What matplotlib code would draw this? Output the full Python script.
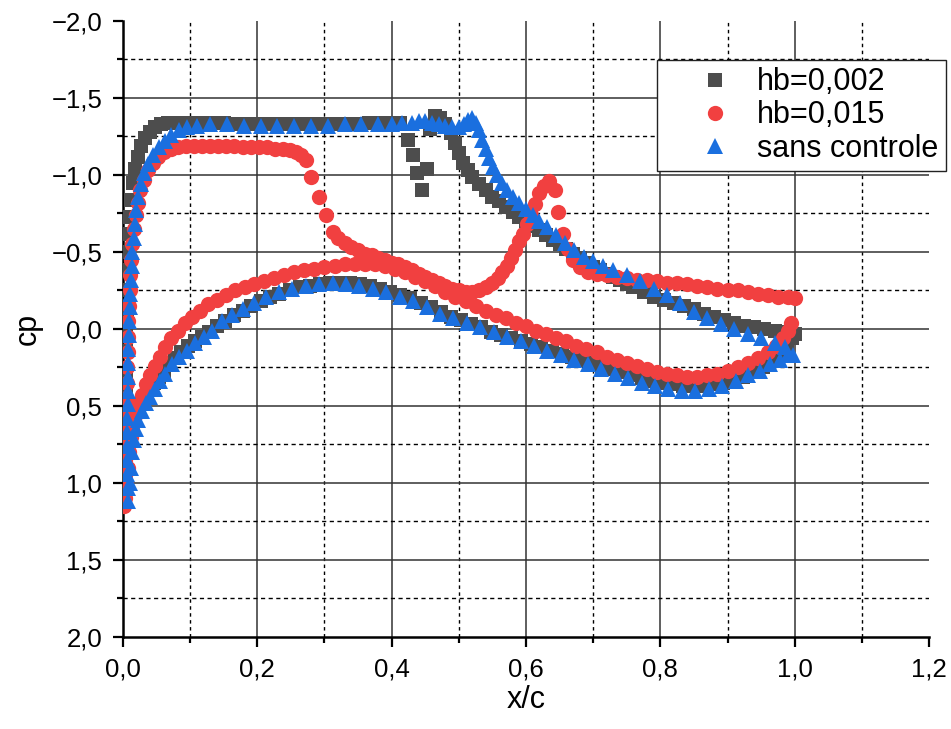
import matplotlib
matplotlib.use("Agg")
import matplotlib.pyplot as plt
from matplotlib.ticker import MultipleLocator, FuncFormatter

plt.rcParams["font.family"] = ["Liberation Sans", "DejaVu Sans"]

# (x/c, cp), upper and lower surface per case
gray_upper = [
    (0.002, 1.05), (0.002, 0.92), (0.003, 0.79), (0.003, 0.66), (0.004, 0.53), (0.004, 0.40),
    (0.005, 0.27), (0.005, 0.14), (0.005, 0.01), (0.006, -0.12), (0.006, -0.25), (0.007, -0.38),
    (0.008, -0.50), (0.009, -0.62), (0.010, -0.73), (0.012, -0.84), (0.015, -0.95), (0.018, -1.04),
    (0.022, -1.12), (0.027, -1.19), (0.033, -1.24), (0.040, -1.28), (0.048, -1.31), (0.057, -1.33),
    (0.067, -1.34), (0.078, -1.34), (0.090, -1.34), (0.102, -1.34), (0.114, -1.34), (0.126, -1.34),
    (0.138, -1.34), (0.150, -1.34), (0.162, -1.33), (0.174, -1.33), (0.186, -1.33), (0.198, -1.33),
    (0.210, -1.33), (0.222, -1.33), (0.234, -1.33), (0.246, -1.33), (0.258, -1.33), (0.270, -1.33),
    (0.282, -1.33), (0.294, -1.33), (0.306, -1.33), (0.318, -1.33), (0.330, -1.33), (0.342, -1.33),
    (0.354, -1.33), (0.366, -1.34), (0.378, -1.34), (0.390, -1.34), (0.402, -1.34), (0.413, -1.34),
    (0.424, -1.23), (0.432, -1.13), (0.437, -1.01), (0.445, -0.90), (0.452, -1.04), (0.457, -1.30),
    (0.464, -1.38), (0.472, -1.37), (0.480, -1.33), (0.488, -1.27), (0.494, -1.21), (0.500, -1.14),
    (0.506, -1.08), (0.513, -1.03), (0.520, -0.99), (0.530, -0.94), (0.540, -0.90), (0.550, -0.86),
    (0.560, -0.83), (0.570, -0.79), (0.580, -0.76), (0.590, -0.73), (0.600, -0.70), (0.610, -0.67),
    (0.620, -0.64), (0.630, -0.61), (0.640, -0.58), (0.650, -0.55), (0.660, -0.52), (0.670, -0.49),
    (0.680, -0.46), (0.690, -0.43), (0.700, -0.40), (0.710, -0.38), (0.720, -0.36), (0.730, -0.34),
    (0.740, -0.32), (0.750, -0.29), (0.760, -0.27), (0.775, -0.24), (0.790, -0.21), (0.805, -0.19),
    (0.820, -0.17), (0.835, -0.15), (0.850, -0.13), (0.865, -0.10), (0.880, -0.08), (0.895, -0.06),
    (0.910, -0.04), (0.925, -0.02), (0.940, -0.01), (0.955, 0.00), (0.970, 0.01), (0.985, 0.02),
    (1.000, 0.03),
]
gray_lower = [
    (0.003, 0.95), (0.005, 0.86), (0.007, 0.78), (0.010, 0.71), (0.013, 0.65), (0.017, 0.59),
    (0.022, 0.54), (0.027, 0.49), (0.033, 0.44), (0.039, 0.39), (0.046, 0.35), (0.053, 0.31),
    (0.061, 0.27), (0.069, 0.23), (0.078, 0.19), (0.087, 0.15), (0.097, 0.11), (0.107, 0.08),
    (0.117, 0.05), (0.128, 0.02), (0.140, -0.02), (0.152, -0.05), (0.165, -0.09), (0.178, -0.12),
    (0.191, -0.15), (0.205, -0.18), (0.219, -0.21), (0.233, -0.23), (0.248, -0.25), (0.263, -0.27),
    (0.278, -0.28), (0.293, -0.29), (0.308, -0.30), (0.323, -0.30), (0.338, -0.30), (0.353, -0.29),
    (0.368, -0.28), (0.383, -0.26), (0.398, -0.24), (0.413, -0.22), (0.428, -0.20), (0.443, -0.17),
    (0.458, -0.14), (0.473, -0.11), (0.488, -0.08), (0.503, -0.06), (0.518, -0.03), (0.533, -0.01),
    (0.548, 0.02), (0.563, 0.04), (0.578, 0.06), (0.593, 0.08), (0.608, 0.10), (0.623, 0.12),
    (0.638, 0.14), (0.653, 0.16), (0.668, 0.18), (0.683, 0.20), (0.698, 0.22), (0.713, 0.24),
    (0.728, 0.26), (0.743, 0.28), (0.758, 0.30), (0.773, 0.32), (0.788, 0.34), (0.803, 0.35),
    (0.818, 0.36), (0.833, 0.37), (0.848, 0.37), (0.863, 0.37), (0.878, 0.36), (0.893, 0.35),
    (0.908, 0.33), (0.923, 0.31), (0.938, 0.28), (0.953, 0.25), (0.966, 0.21), (0.978, 0.16),
    (0.988, 0.11), (0.996, 0.06),
]

red_upper = [
    (0.002, 1.15), (0.002, 1.05), (0.003, 0.95), (0.003, 0.85), (0.004, 0.75), (0.004, 0.65),
    (0.005, 0.55), (0.005, 0.45), (0.006, 0.35), (0.006, 0.25), (0.007, 0.15), (0.007, 0.05),
    (0.008, -0.05), (0.009, -0.15), (0.010, -0.25), (0.011, -0.35), (0.012, -0.45), (0.014, -0.55),
    (0.016, -0.65), (0.019, -0.74), (0.022, -0.82), (0.026, -0.90), (0.031, -0.97), (0.037, -1.03),
    (0.044, -1.08), (0.052, -1.12), (0.061, -1.15), (0.071, -1.17), (0.082, -1.18), (0.094, -1.19),
    (0.106, -1.19), (0.118, -1.19), (0.130, -1.19), (0.142, -1.19), (0.154, -1.19), (0.166, -1.19),
    (0.178, -1.18), (0.190, -1.18), (0.202, -1.18), (0.214, -1.18), (0.226, -1.17), (0.238, -1.17),
    (0.248, -1.16), (0.257, -1.15), (0.265, -1.13), (0.272, -1.10), (0.280, -0.99), (0.292, -0.86),
    (0.303, -0.74), (0.312, -0.63), (0.320, -0.59), (0.330, -0.56), (0.340, -0.53), (0.350, -0.51),
    (0.360, -0.49), (0.370, -0.48), (0.380, -0.46), (0.390, -0.45), (0.400, -0.43), (0.410, -0.42),
    (0.420, -0.40), (0.430, -0.38), (0.440, -0.36), (0.450, -0.34), (0.460, -0.32), (0.470, -0.30),
    (0.480, -0.28), (0.490, -0.26), (0.500, -0.25), (0.510, -0.24), (0.520, -0.24), (0.530, -0.25),
    (0.540, -0.27), (0.550, -0.30), (0.558, -0.33), (0.565, -0.37), (0.572, -0.41), (0.578, -0.46),
    (0.584, -0.51), (0.590, -0.57), (0.596, -0.62), (0.602, -0.68), (0.608, -0.74), (0.614, -0.81),
    (0.620, -0.88), (0.627, -0.93), (0.634, -0.96), (0.643, -0.90), (0.647, -0.76), (0.655, -0.62),
    (0.662, -0.52), (0.670, -0.45), (0.680, -0.40), (0.692, -0.37), (0.705, -0.36), (0.720, -0.35),
    (0.735, -0.34), (0.750, -0.33), (0.765, -0.32), (0.780, -0.32), (0.795, -0.31), (0.810, -0.30),
    (0.825, -0.30), (0.840, -0.29), (0.855, -0.28), (0.870, -0.27), (0.885, -0.26), (0.900, -0.25),
    (0.915, -0.25), (0.930, -0.24), (0.945, -0.23), (0.960, -0.22), (0.975, -0.21), (0.990, -0.21),
    (1.000, -0.20),
]
red_lower = [
    (0.003, 1.10), (0.005, 1.00), (0.007, 0.90), (0.009, 0.80), (0.012, 0.70), (0.015, 0.62),
    (0.019, 0.55), (0.023, 0.49), (0.028, 0.43), (0.034, 0.36), (0.040, 0.30), (0.047, 0.24),
    (0.055, 0.18), (0.063, 0.12), (0.072, 0.06), (0.082, 0.01), (0.092, -0.04), (0.103, -0.08),
    (0.115, -0.12), (0.127, -0.16), (0.140, -0.19), (0.153, -0.22), (0.167, -0.25), (0.181, -0.27),
    (0.195, -0.29), (0.210, -0.31), (0.225, -0.33), (0.240, -0.35), (0.255, -0.37), (0.270, -0.38),
    (0.285, -0.39), (0.300, -0.40), (0.315, -0.41), (0.330, -0.42), (0.345, -0.42), (0.360, -0.42),
    (0.375, -0.42), (0.390, -0.41), (0.405, -0.39), (0.420, -0.37), (0.435, -0.34), (0.450, -0.31),
    (0.465, -0.28), (0.480, -0.24), (0.495, -0.21), (0.510, -0.18), (0.525, -0.15), (0.540, -0.12),
    (0.555, -0.09), (0.570, -0.07), (0.585, -0.04), (0.600, -0.02), (0.615, 0.01), (0.630, 0.03),
    (0.645, 0.06), (0.660, 0.08), (0.675, 0.11), (0.690, 0.13), (0.705, 0.15), (0.720, 0.18),
    (0.735, 0.20), (0.750, 0.22), (0.765, 0.24), (0.780, 0.26), (0.795, 0.28), (0.810, 0.29),
    (0.825, 0.30), (0.840, 0.31), (0.855, 0.31), (0.870, 0.30), (0.885, 0.29), (0.900, 0.27),
    (0.915, 0.25), (0.930, 0.22), (0.945, 0.19), (0.960, 0.15), (0.972, 0.11), (0.982, 0.06),
    (0.990, 0.01), (0.995, -0.04),
]

blue_upper = [
    (0.008, 1.12), (0.007, 1.03), (0.006, 0.94), (0.006, 0.85), (0.006, 0.76), (0.006, 0.67),
    (0.006, 0.58), (0.007, 0.49), (0.007, 0.40), (0.007, 0.31), (0.008, 0.22), (0.008, 0.13),
    (0.009, 0.04), (0.009, -0.05), (0.010, -0.14), (0.011, -0.23), (0.012, -0.32), (0.013, -0.41),
    (0.014, -0.50), (0.016, -0.59), (0.018, -0.68), (0.020, -0.77), (0.023, -0.86), (0.027, -0.94),
    (0.032, -1.01), (0.038, -1.07), (0.045, -1.13), (0.053, -1.18), (0.062, -1.22), (0.072, -1.26),
    (0.083, -1.29), (0.095, -1.31), (0.110, -1.32), (0.130, -1.33), (0.155, -1.33), (0.180, -1.32),
    (0.205, -1.32), (0.230, -1.32), (0.255, -1.32), (0.280, -1.32), (0.305, -1.32), (0.330, -1.33),
    (0.355, -1.33), (0.380, -1.33), (0.400, -1.33), (0.415, -1.34), (0.430, -1.34), (0.440, -1.35),
    (0.450, -1.35), (0.460, -1.34), (0.470, -1.33), (0.480, -1.32), (0.490, -1.31), (0.500, -1.31),
    (0.507, -1.33), (0.514, -1.36), (0.520, -1.37), (0.525, -1.34), (0.530, -1.29), (0.535, -1.23),
    (0.540, -1.17), (0.545, -1.11), (0.551, -1.05), (0.557, -1.00), (0.564, -0.95), (0.572, -0.90),
    (0.581, -0.86), (0.590, -0.82), (0.600, -0.78), (0.610, -0.74), (0.620, -0.70), (0.632, -0.66),
    (0.645, -0.61), (0.658, -0.56), (0.672, -0.51), (0.686, -0.47), (0.700, -0.44), (0.715, -0.41),
    (0.730, -0.38), (0.750, -0.35), (0.770, -0.31), (0.790, -0.26), (0.810, -0.22), (0.830, -0.17),
    (0.850, -0.11), (0.870, -0.07), (0.890, -0.03), (0.910, 0.00), (0.930, 0.03), (0.950, 0.06),
    (0.970, 0.09), (0.985, 0.12), (0.997, 0.17),
]
blue_lower = [
    (0.010, 1.00), (0.012, 0.90), (0.014, 0.80), (0.016, 0.72), (0.019, 0.65), (0.023, 0.59),
    (0.028, 0.53), (0.034, 0.48), (0.040, 0.44), (0.047, 0.39), (0.055, 0.34), (0.063, 0.29),
    (0.073, 0.23), (0.084, 0.18), (0.095, 0.14), (0.107, 0.09), (0.120, 0.05), (0.133, 0.01),
    (0.147, -0.05), (0.162, -0.09), (0.178, -0.13), (0.195, -0.17), (0.213, -0.21), (0.232, -0.24),
    (0.252, -0.26), (0.272, -0.28), (0.292, -0.29), (0.312, -0.30), (0.332, -0.29), (0.352, -0.28),
    (0.372, -0.26), (0.392, -0.24), (0.412, -0.21), (0.432, -0.18), (0.452, -0.14), (0.472, -0.10),
    (0.492, -0.07), (0.512, -0.04), (0.532, -0.01), (0.552, 0.02), (0.572, 0.05), (0.592, 0.08),
    (0.612, 0.11), (0.632, 0.14), (0.652, 0.17), (0.672, 0.20), (0.692, 0.23), (0.712, 0.26),
    (0.732, 0.29), (0.752, 0.32), (0.772, 0.35), (0.792, 0.37), (0.812, 0.39), (0.832, 0.40),
    (0.852, 0.40), (0.872, 0.39), (0.892, 0.37), (0.912, 0.34), (0.930, 0.30), (0.948, 0.27),
    (0.963, 0.23), (0.978, 0.20), (0.990, 0.17),
]

series = [
    ("hb=0,002", gray_upper + gray_lower, "s", "#4D4D4D", 10.5),
    ("hb=0,015", red_upper + red_lower, "o", "#F14040", 11),
    ("sans controle", blue_upper + blue_lower, "^", "#1A6FDF", 12),
]


def fmt(v, pos):
    return f"{v:.1f}".replace(".", ",").replace("-", "\u2212")


fig = plt.figure(figsize=(9.51, 7.29), dpi=100)
ax = fig.add_axes([0.1293, 0.1262, 0.8476, 0.845])

for label, pts, marker, color, ms in series:
    xs = [p[0] for p in pts]
    ys = [p[1] for p in pts]
    ax.plot(xs, ys, linestyle="none", marker=marker, color=color, ms=ms,
            markeredgewidth=0, label=label, zorder=3)

ax.set_xlim(0, 1.2)
ax.set_ylim(2.0, -2.0)

# grid drawn by hand so nothing sits on the frame edges
for v in [0.2, 0.4, 0.6, 0.8, 1.0]:
    ax.axvline(v, color="#333333", lw=1.1, zorder=1)
for v in [0.1, 0.3, 0.5, 0.7, 0.9, 1.1]:
    ax.axvline(v, color="black", lw=1.0, ls=(0, (2.5, 2.5)), zorder=1)
for v in [-1.5, -1.0, -0.5, 0.0, 0.5, 1.0, 1.5]:
    ax.axhline(v, color="#333333", lw=1.1, zorder=1)
for v in [-1.75, -1.25, -0.75, -0.25, 0.25, 0.75, 1.25, 1.75]:
    ax.axhline(v, color="black", lw=1.0, ls=(0, (3, 2.5)), zorder=1)

ax.xaxis.set_major_locator(MultipleLocator(0.2))
ax.xaxis.set_minor_locator(MultipleLocator(0.1))
ax.yaxis.set_major_locator(MultipleLocator(0.5))
ax.yaxis.set_minor_locator(MultipleLocator(0.25))
ax.xaxis.set_major_formatter(FuncFormatter(fmt))
ax.yaxis.set_major_formatter(FuncFormatter(fmt))

for s in ["top", "right"]:
    ax.spines[s].set_visible(False)
for s in ["left", "bottom"]:
    ax.spines[s].set_linewidth(1.8)

ax.tick_params(which="major", direction="out", length=7, width=1.6,
               labelsize=18.5, pad=8)
ax.tick_params(which="minor", direction="out", length=4, width=1.6)

ax.set_xlabel("x/c", fontsize=22, labelpad=2)
ax.set_ylabel("cp", fontsize=22, labelpad=6)

leg = ax.legend(loc="upper left", bbox_to_anchor=(0.6625, 0.937), borderaxespad=0,
                fontsize=22, frameon=True, fancybox=False, framealpha=1,
                edgecolor="#222222", borderpad=0.25, handlelength=3.3,
                handletextpad=-0.27, labelspacing=0.1)
leg.get_frame().set_linewidth(1.0)
leg.set_zorder(5)

fig.savefig("out.png", dpi=100)
